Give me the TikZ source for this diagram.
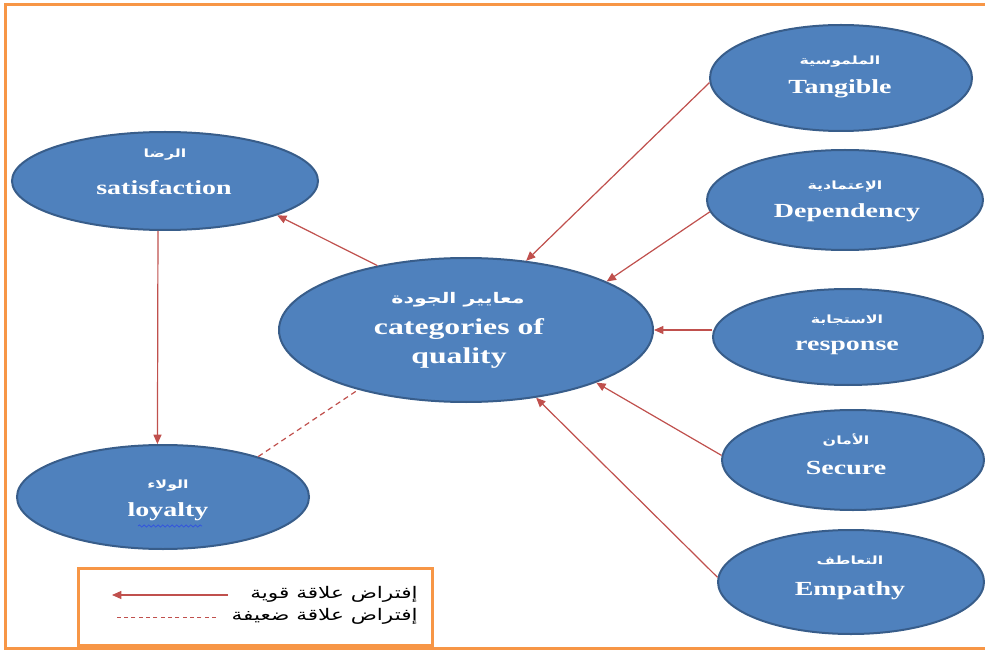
\documentclass[tikz,border=0pt]{standalone}
\usepackage{fontspec}
\usetikzlibrary{shapes.geometric,arrows.meta,decorations.pathmorphing}
\TeXXeTstate=1
\newfontfamily\enfont[FakeStretch=1.4]{Liberation Serif}
\newfontfamily\arfont[Script=Arabic,FakeStretch=1.4]{DejaVu Sans}
\newfontfamily\legfont[Script=Arabic,FakeStretch=1.35]{DejaVu Sans}
\definecolor{qfill}{HTML}{4F81BD}
\definecolor{qedge}{HTML}{385D8A}
\definecolor{qred}{HTML}{C0504D}
\definecolor{qorange}{HTML}{F79646}
\definecolor{qwave}{HTML}{3355DD}
\begin{document}
\begin{tikzpicture}[x=0.75pt,y=-0.75pt,
  qell/.style={ellipse, draw=qedge, line width=1.5pt, fill=qfill, inner sep=0pt},
  artext/.style={text=white, inner sep=0pt, font=\arfont\bfseries\fontsize{8.5}{10}\selectfont},
  entext/.style={text=white, inner sep=0pt, font=\enfont\bfseries\fontsize{15}{17}\selectfont},
  cattext/.style={text=white, inner sep=0pt, font=\enfont\bfseries\fontsize{17}{19}\selectfont},
  rel/.style={draw=qred, line width=0.9pt, -{Triangle[length=7pt,width=6pt]}},
  weak/.style={draw=qred, line width=0.9pt, dash pattern=on 4pt off 3pt},
  frame/.style={draw=qorange, line width=2.25pt},
  legtext/.style={anchor=east, inner sep=0pt, text=black, font=\legfont\fontsize{12}{14}\selectfont}]
\useasboundingbox[fill=white] (0,0) rectangle (985,652);
\draw[frame] (985,5) -- (5,5) -- (5,648) -- (985,648);

% ellipses
\node[qell, minimum width=196.5pt, minimum height=79.5pt] (tang) at (841,78) {};
\node[qell, minimum width=207pt, minimum height=75pt] (dep) at (845,200) {};
\node[qell, minimum width=202.5pt, minimum height=72pt] (resp) at (848,337) {};
\node[qell, minimum width=196.5pt, minimum height=75pt] (sec) at (853,460) {};
\node[qell, minimum width=199.5pt, minimum height=78pt] (emp) at (851,582) {};
\node[qell, minimum width=229.5pt, minimum height=73.5pt] (sat) at (165,181) {};
\node[qell, minimum width=219pt, minimum height=78pt] (loy) at (163,497) {};
\node[qell, minimum width=280.5pt, minimum height=108pt] (cat) at (466,330) {};

% labels
\node[artext] (tangA) at (840,62) {\beginR الملموسية\endR};
\node[entext] (tangE) at (840,89) {Tangible};
\node[artext] (depA) at (845,187) {\beginR الإعتمادية\endR};
\node[entext] (depE) at (847,213) {Dependency};
\node[artext] (respA) at (847,320) {\beginR الاستجابة\endR};
\node[entext] (respE) at (847,348) {response};
\node[artext] (secA) at (846,440) {\beginR الأمان\endR};
\node[entext] (secE) at (846,468) {Secure};
\node[artext] (empA) at (850,560) {\beginR التعاطف\endR};
\node[entext] (empE) at (850,591) {Empathy};
\node[artext] (satA) at (165,155) {\beginR الرضا\endR};
\node[entext] (satE) at (164,188) {satisfaction};
\node[artext] (loyA) at (168,486) {\beginR الولاء\endR};
\node[entext] (loyE) at (168,512) {loyalty};
\node[artext, font=\arfont\bfseries\fontsize{11}{13}\selectfont] (catA) at (458,300) {\beginR معايير الجودة\endR};
\node[cattext] (catE1) at (459,329) {categories of};
\node[cattext] (catE2) at (459,358) {quality};

\draw[qwave, line width=0.6pt, decorate, decoration={snake, amplitude=0.8pt, segment length=3.5pt}] (138,526) -- (202,526);

% connectors
\draw[rel] (tang.182) -- (cat.49);
\draw[rel] (dep.185) -- (cat.19);
\draw[rel] (cat.east -| resp.west) -- (cat.east);
\draw[rel] (sec.178) -- (cat.338);
\draw[rel] (emp.178) -- (cat.316);
\draw[rel] (cat.144) -- (sat.343);
\draw[rel] (sat.262) -- (loy.96);
\draw[weak] (loy.23) -- (cat.209);

% legend
\node[frame, draw, rectangle, minimum width=265.5pt, minimum height=57.75pt, inner sep=0pt] (leg) at (255,606.5) {};
\coordinate (la1) at (228,595);
\coordinate (la2) at (112,595);
\coordinate (ld1) at (216,617);
\coordinate (ld2) at (114,617);
\draw[rel] (la1) -- (la2);
\draw[weak, line width=0.7pt, dash pattern=on 3pt off 2.5pt] (ld1) -- (ld2);
\node[legtext] (lt1) at (418,594) {\beginR إفتراض علاقة قوية\endR};
\node[legtext] (lt2) at (418,616) {\beginR إفتراض علاقة ضعيفة\endR};
\end{tikzpicture}
\end{document}
